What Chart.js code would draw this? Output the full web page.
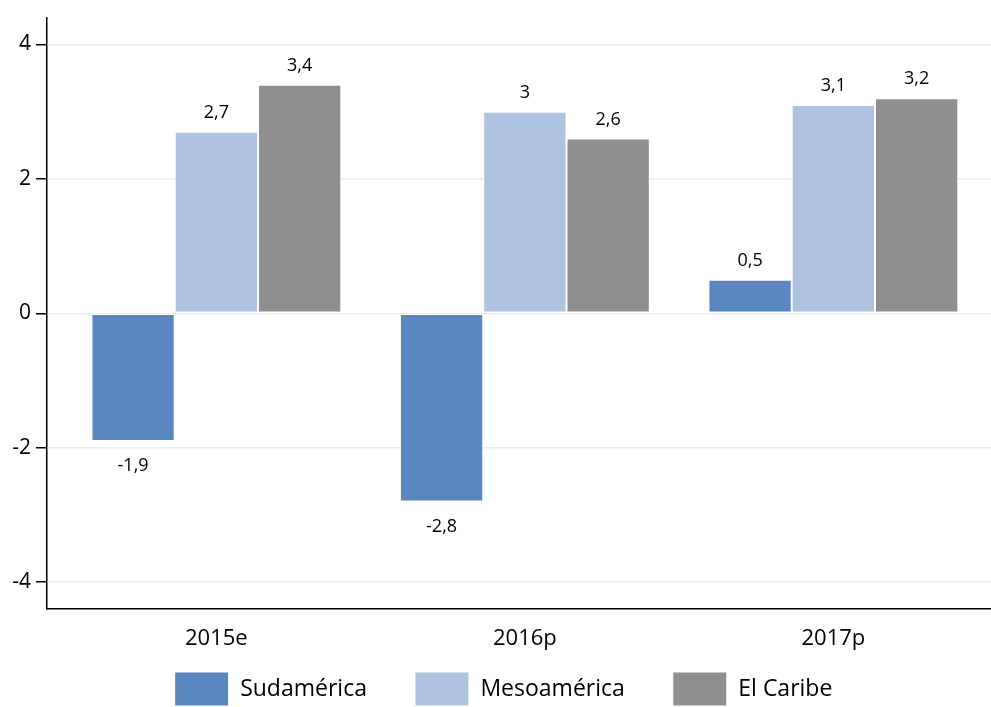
<!DOCTYPE html>
<html>
<head>
<meta charset="utf-8">
<script src="https://cdn.jsdelivr.net/npm/chart.js@4"></script>
<style>
  html, body { margin: 0; padding: 0; background: #fff; }
  #wrap { width: 991px; height: 707px; }
</style>
</head>
<body>
<div id="wrap"><canvas id="chart" width="991" height="707"></canvas></div>
<script>
// chart data
const categories = ["2015e", "2016p", "2017p"];
const sudamerica = [-1.9, -2.8, 0.5];
const mesoamerica = [2.7, 3.0, 3.1];
const caribe = [3.4, 2.6, 3.2];
const seriesNames = ["Sudamérica", "Mesoamérica", "El Caribe"];
const yTicks = [-4, -2, 0, 2, 4];

const FONT = "'Open Sans', 'Noto Sans', sans-serif";

// categories sit on a numeric axis so the groups can be placed like the original
const toPoints = arr => arr.map((v, i) => ({ x: i, y: v }));

// draws the value above / below each bar, with a decimal comma
const valueLabels = {
  id: "valueLabels",
  afterLayout(chart) {
    // keep x labels from being clipped, nudge legend a bit right
    const x = chart.scales.x;
    x.bottom = x.top + 60;
    chart.legend.left += 8;
    chart.legend.right += 8;
  },
  afterDatasetsDraw(chart) {
    const ctx = chart.ctx;
    ctx.save();
    ctx.font = "18px " + FONT;
    ctx.fillStyle = "#000";
    ctx.textAlign = "center";
    chart.data.datasets.forEach((ds, i) => {
      chart.getDatasetMeta(i).data.forEach((bar, j) => {
        const v = ds.data[j].y;
        const txt = String(v).replace(".", ",");
        if (v >= 0) {
          ctx.textBaseline = "bottom";
          ctx.fillText(txt, bar.x, bar.y - 10);
        } else {
          ctx.textBaseline = "top";
          ctx.fillText(txt, bar.x, bar.y + 16);
        }
      });
    });
    ctx.restore();
  }
};

new Chart(document.getElementById("chart"), {
  type: "bar",
  data: {
    datasets: [
      { label: seriesNames[0], data: toPoints(sudamerica), backgroundColor: "#5b87c0" },
      { label: seriesNames[1], data: toPoints(mesoamerica), backgroundColor: "#adc3e0" },
      { label: seriesNames[2], data: toPoints(caribe), backgroundColor: "#8f8f8f" }
    ].map(d => Object.assign(d, {
      borderColor: "#fff",
      borderWidth: 1,
      borderSkipped: false,
      categoryPercentage: 0.81,
      barPercentage: 1.0
    }))
  },
  options: {
    responsive: false,
    animation: false,
    layout: { padding: { left: 0, right: 0, top: 15, bottom: -9 } },
    plugins: {
      tooltip: { enabled: false },
      legend: {
        position: "bottom",
        labels: {
          font: { family: FONT, size: 23 },
          color: "#000",
          boxWidth: 54,
          boxHeight: 34,
          padding: 48,
          useBorderRadius: false
        }
      }
    },
    scales: {
      x: {
        type: "linear",
        min: -0.549,
        max: 2.511,
        offset: false,
        afterBuildTicks: axis => { axis.ticks = categories.map((c, i) => ({ value: i })); },
        afterFit: axis => { axis.height = 15; },
        grid: { display: false, drawTicks: false, offset: false },
        border: { color: "#000", width: 1.5 },
        ticks: {
          font: { family: FONT, size: 22 },
          color: "#000",
          padding: 17,
          callback: v => categories[v] ?? ""
        }
      },
      y: {
        min: -4.4,
        max: 4.4,
        afterBuildTicks: axis => { axis.ticks = yTicks.map(v => ({ value: v })); },
        afterFit: axis => { axis.width = 47; },
        grid: { color: "#e6edf2", lineWidth: 1.5, tickColor: "#000", tickLength: 11 },
        border: { color: "#000", width: 1.5 },
        ticks: {
          font: { family: FONT, size: 21 },
          color: "#000",
          padding: 5,
          callback: v => String(v)
        }
      }
    }
  },
  plugins: [valueLabels]
});
</script>
</body>
</html>
